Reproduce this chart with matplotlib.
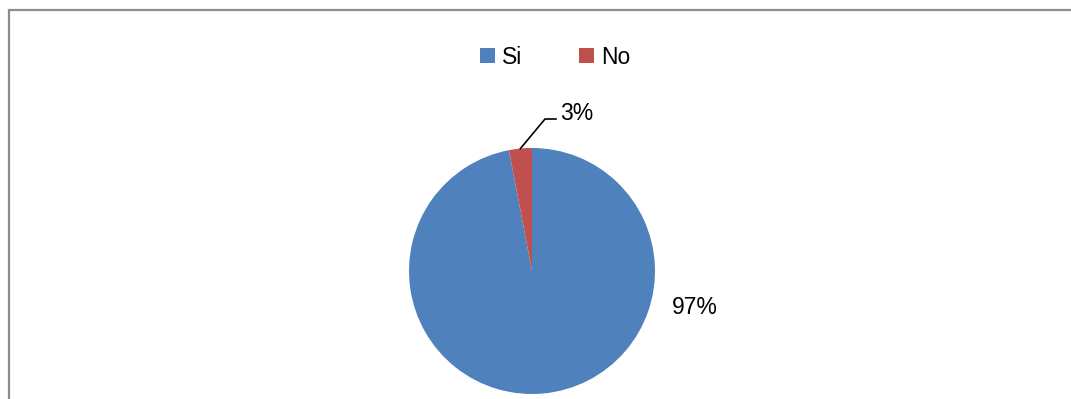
import matplotlib
matplotlib.use("Agg")
import matplotlib.pyplot as plt
from matplotlib.patches import Patch, Rectangle
import numpy as np

categories = ["Si", "No"]
values = [97, 3]
labels = ["97%", "3%"]
colors = ["#4F81BD", "#C0504D"]

plt.rcParams['font.family'] = ['Liberation Sans', 'DejaVu Sans']

W, H = 1071, 399
fig = plt.figure(figsize=(W/100, H/100), dpi=100)

# frame
fig.patches.append(Rectangle((8.5/W, -0.1), 1.2, 1 - 9.5/H + 0.1, transform=fig.transFigure,
                             fill=False, edgecolor="#8c8c8c", linewidth=1.6, zorder=0))

cx, cy, r = 532, 271, 123
ax = fig.add_axes([(cx - r)/W, (H - cy - r)/H, 2*r/W, 2*r/H])
wedges, _ = ax.pie(values, colors=colors, startangle=90, counterclock=False, radius=1,
                   wedgeprops=dict(linewidth=0))
ax.set_xlim(-1, 1)
ax.set_ylim(-1, 1)
ax.axis("off")

def d(px, py):
    return ((px - cx)/r, (cy - py)/r)

# label for Si
x, y = d(695, 307)
ax.text(x, y, labels[0], ha="center", va="center", fontsize=16.5, clip_on=False)

# label + leader for No
w = wedges[1]
mid = np.deg2rad((w.theta1 + w.theta2)/2)
p0 = (np.cos(mid), np.sin(mid))
p1 = d(545, 119)
p2 = d(556, 119)
ax.plot([p0[0], p1[0], p2[0]], [p0[1], p1[1], p2[1]], color="black", lw=1.2, clip_on=False)
x, y = d(560, 113)
ax.text(x, y, labels[1], ha="left", va="center", fontsize=16.5, clip_on=False)

handles = [Patch(facecolor=c, edgecolor="none") for c in colors]
fig.legend(handles, categories, loc="center", bbox_to_anchor=(555/W, 1 - 57/H), ncol=2,
           frameon=False, fontsize=16.5, handlelength=0.66, handleheight=0.66,
           handletextpad=0.3, columnspacing=2.5, borderaxespad=0, borderpad=0)

fig.savefig("out.png", dpi=100)
